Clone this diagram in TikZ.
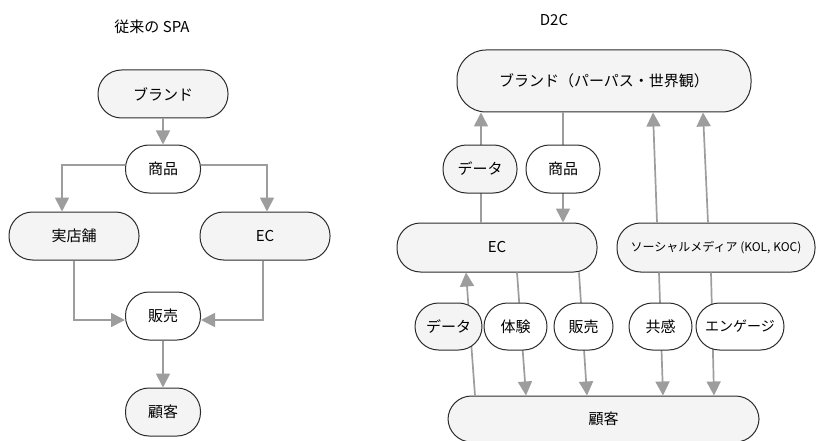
\documentclass[tikz,border=0pt]{standalone}
\usepackage{fontspec}
\setmainfont{Noto Sans CJK JP}
\usetikzlibrary{arrows.meta}
\definecolor{boxFill}{HTML}{F4F4F4}
\definecolor{boxLine}{HTML}{2B2B2B}
\definecolor{arrowGray}{HTML}{9D9D9D}

\begin{document}
\begin{tikzpicture}[x=1pt, y=-1pt,
  nodeStyle/.style={draw=boxLine, line width=1pt, rounded corners=23.5pt, fill=boxFill, inner sep=0pt, minimum height=48pt, font=\fontsize{15}{18}\selectfont},
  whiteNode/.style={nodeStyle, fill=white},
  titleStyle/.style={font=\fontsize{15}{18}\selectfont},
  arrowStyle/.style={draw=arrowGray, line width=1.7pt, -{Triangle[length=14pt, width=14pt]}}
]
\useasboundingbox (0,0) rectangle (816,441);

\node [titleStyle] (leftTitle)  at (152,27) {従来の SPA};
\node [titleStyle] (rightTitle) at (554,20) {D2C};

\node [nodeStyle, minimum width=130pt] (lBrand)    at (163,94)  {ブランド};
\node [whiteNode, minimum width=75pt]  (lItem)     at (163,169) {商品};
\node [nodeStyle, minimum width=130pt] (lStore)    at (74,236)  {実店舗};
\node [nodeStyle, minimum width=130pt] (lEC)       at (265,236) {EC};
\node [whiteNode, minimum width=75pt]  (lSale)     at (163,316) {販売};
\node [nodeStyle, minimum width=75pt]  (lCustomer) at (163,412) {顧客};

\draw [arrowStyle] (lBrand) -- (lItem);
\draw [arrowStyle] ([yshift=4pt]lItem.west) -| ([xshift=-12pt]lStore.north);
\draw [arrowStyle] ([yshift=4pt]lItem.east) -| ([xshift=2pt]lEC.north);
\draw [arrowStyle] (lStore.south) |- ([yshift=-4pt]lSale.west);
\draw [arrowStyle] ([xshift=-2pt]lEC.south) |- ([yshift=-4pt]lSale.east);
\draw [arrowStyle] (lSale) -- (lCustomer);

\node [nodeStyle, minimum width=294pt, minimum height=62pt, rounded corners=29pt] (rBrand) at (604,81) {ブランド（パーパス・世界観）};
\node [nodeStyle, minimum width=200pt, minimum height=49pt] (rEC) at (497,247.5) {EC};
\node [nodeStyle, minimum width=198pt, minimum height=49pt, font=\fontsize{12}{14}\selectfont] (rSocial) at (716,247.5) {ソーシャルメディア (KOL, KOC)};
\node [nodeStyle, minimum width=311pt, minimum height=46pt] (rCustomer) at (603.5,419) {顧客};

\draw [arrowStyle] (481,0 |- rEC.north) -- (481,0 |- rBrand.south);
\draw [arrowStyle] (563,0 |- rBrand.south) -- (563,0 |- rEC.north);
\draw [arrowStyle] (657,0 |- rSocial.north) -- (653,0 |- rBrand.south);
\draw [arrowStyle] (708,0 |- rSocial.north) -- (703,0 |- rBrand.south);
\draw [arrowStyle] (475,0 |- rCustomer.north) -- (466,0 |- rEC.south);
\draw [arrowStyle] (517,0 |- rEC.south) -- (526,0 |- rCustomer.north);
\draw [arrowStyle] (579,0 |- rEC.south) -- (587,0 |- rCustomer.north);
\draw [arrowStyle] (659,0 |- rSocial.south) -- (663,0 |- rCustomer.north);
\draw [arrowStyle] (711,0 |- rSocial.south) -- (714,0 |- rCustomer.north);

\node [nodeStyle, minimum width=74pt] (upData)   at (480,169) {データ};
\node [whiteNode, minimum width=74pt] (downItem) at (563,169) {商品};
\node [nodeStyle, minimum width=67pt, minimum height=47pt] (dataLabel) at (448.5,326.5) {データ};
\node [whiteNode, minimum width=63pt, minimum height=47pt] (tryLabel)  at (515.5,326.5) {体験};
\node [whiteNode, minimum width=59pt, minimum height=47pt] (saleLabel) at (583.5,326.5) {販売};
\node [whiteNode, minimum width=63pt, minimum height=47pt] (feelLabel) at (660.5,326.5) {共感};
\node [whiteNode, minimum width=88pt, minimum height=47pt, font=\fontsize{14}{17}\selectfont] (engageLabel) at (740,326.5) {エンゲージ};
\end{tikzpicture}
\end{document}
